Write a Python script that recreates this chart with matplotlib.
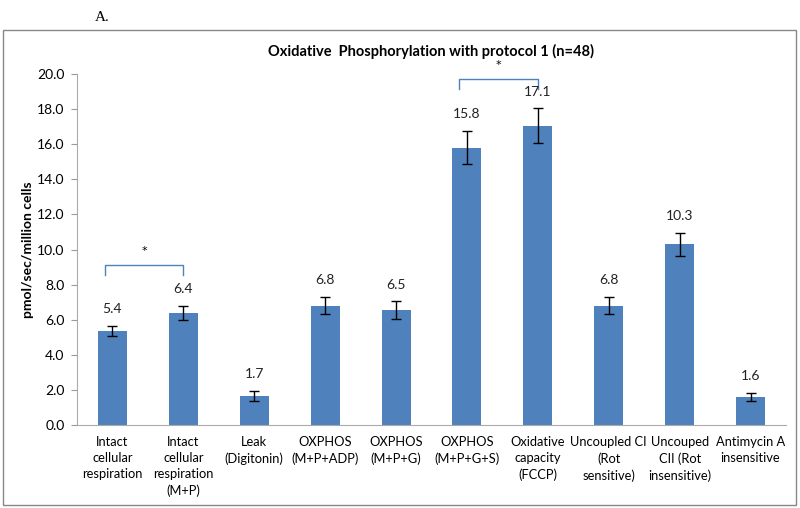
import matplotlib
matplotlib.use("Agg")
import matplotlib.pyplot as plt
from matplotlib.patches import Rectangle

categories = ["Intact\ncellular\nrespiration", "Intact\ncellular\nrespiration\n(M+P)",
              "Leak\n(Digitonin)", "OXPHOS\n(M+P+ADP)", "OXPHOS\n(M+P+G)",
              "OXPHOS\n(M+P+G+S)", "Oxidative\ncapacity\n(FCCP)", "Uncoupled CI\n(Rot\nsensitive)",
              "Uncouped\nCII (Rot\ninsensitive)", "Antimycin A\ninsensitive"]
values = [5.35, 6.4, 1.65, 6.8, 6.55, 15.8, 17.05, 6.8, 10.3, 1.6]
labels = ["5.4", "6.4", "1.7", "6.8", "6.5", "15.8", "17.1", "6.8", "10.3", "1.6"]
errors = [0.3, 0.4, 0.28, 0.5, 0.5, 0.95, 1.0, 0.5, 0.65, 0.25]
yticks = [0, 2, 4, 6, 8, 10, 12, 14, 16, 18, 20]
sig_pairs = [(0, 1, 9.1), (5, 6, 19.7)]

plt.rcParams['font.family'] = ['Lato', 'DejaVu Sans']

fig = plt.figure(figsize=(8, 5.08), dpi=100)
fig.patches.append(Rectangle((0.004, 0.006), 0.991, 0.935, transform=fig.transFigure,
                             fill=False, edgecolor='#888888', linewidth=1.0))
fig.text(0.118, 0.965, "A.", family='Liberation Serif', fontsize=11, ha='left', va='center')

ax = fig.add_axes([0.09625, 0.1634, 0.88625, 0.6909])
x = list(range(len(categories)))
ax.bar(x, values, width=0.41, color='#4F81BD', zorder=2)
ax.errorbar(x, values, yerr=errors, fmt='none', ecolor='black', elinewidth=1.0,
            capsize=3.5, capthick=1.0, zorder=3)
for xi, v, e, lab in zip(x, values, errors, labels):
    ax.text(xi, v + e + 0.95, lab, ha='center', va='center', fontsize=10, color='#222222')

ax.set_xlim(-0.5, len(categories) - 0.5)
ax.set_ylim(0, 20)
ax.set_yticks(yticks)
ax.set_yticklabels([f"{t:.1f}" for t in yticks], fontsize=10)
ax.set_xticks(x)
ax.set_xticklabels(categories, fontsize=9.3, linespacing=1.4)
ax.tick_params(axis='x', length=0, pad=8)
ax.tick_params(axis='y', length=4, color='#999999', pad=5)
for s in ['top', 'right']:
    ax.spines[s].set_visible(False)
for s in ['left', 'bottom']:
    ax.spines[s].set_color('#aaaaaa')
ax.set_ylabel("pmol/sec/million cells", fontsize=10, fontweight='bold', labelpad=2)
ax.set_title("Oxidative  Phosphorylation with protocol 1 (n=48)", fontsize=10.5,
             fontweight='bold', pad=13)

for a, b, h in sig_pairs:
    xa, xb = a - 0.11, b
    ax.plot([xa, xa, xb, xb], [h - 0.55, h, h, h - 0.55], color='#4F81BD', lw=1.0, clip_on=False)
    ax.text((xa + xb) / 2, h + 0.8, "*", ha='center', va='center', fontsize=8,
            family='DejaVu Sans')

fig.savefig("out.png", dpi=100)
